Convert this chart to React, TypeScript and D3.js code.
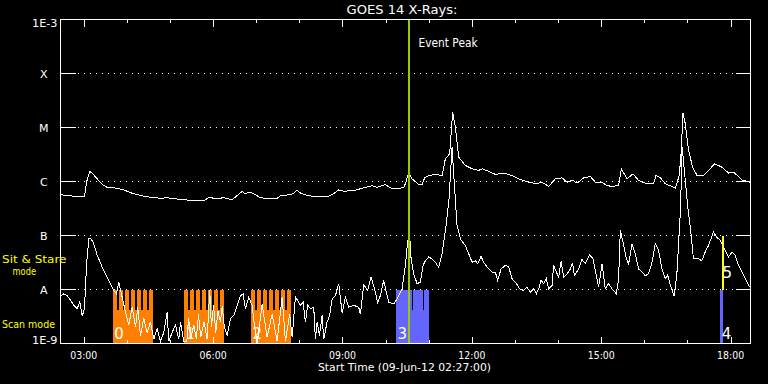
import React from 'react';
import * as d3 from 'd3';

// ---------- data (time in UT hours on 09-Jun-2012, flux in W/m^2) ----------
const startHour = 2.45; // 02:27 UT
const endHour = 18.45;
const eventPeakHour = 10.533;

const goesLetters = ['A', 'B', 'C', 'M', 'X'];
const goesFlux = [1e-8, 1e-7, 1e-6, 1e-5, 1e-4];
const decadeFlux = [1e-9, 1e-8, 1e-7, 1e-6, 1e-5, 1e-4, 1e-3];
const hourTicks = [3, 4, 5, 6, 7, 8, 9, 10, 11, 12, 13, 14, 15, 16, 17, 18];
const labelHours = [3, 6, 9, 12, 15, 18];

// 1-8 Angstrom channel
const longTime = [
  2.450, 2.605, 2.798, 3.006, 3.053, 3.129, 3.185, 3.301, 3.417, 3.533, 3.764, 3.917, 4.073, 4.304,
  4.536, 4.768, 4.923, 5.077, 5.308, 5.540, 5.772, 5.904, 6.043, 6.236, 6.430, 6.546, 6.662, 6.738,
  6.838, 6.970, 7.086, 7.278, 7.473, 7.550, 7.782, 7.858, 7.937, 8.013, 8.169, 8.400, 8.632, 8.748,
  8.901, 9.017, 9.249, 9.481, 9.675, 9.791, 9.984, 10.100, 10.255, 10.408, 10.448, 10.526, 10.603,
  10.757, 10.833, 10.894, 10.986, 11.141, 11.298, 11.374, 11.474, 11.543, 11.606, 11.683, 11.838,
  11.994, 12.147, 12.226, 12.379, 12.534, 12.726, 12.921, 13.113, 13.306, 13.500, 13.616, 13.769,
  13.925, 14.080, 14.196, 14.312, 14.427, 14.580, 14.736, 14.852, 15.007, 15.123, 15.239, 15.392,
  15.455, 15.586, 15.726, 15.855, 16.011, 16.203, 16.259, 16.358, 16.474, 16.706, 16.799, 16.845,
  16.884, 16.938, 17.015, 17.108, 17.210, 17.363, 17.479, 17.618, 17.790, 17.943, 18.059, 18.253, 18.445,
];
const longFlux = [
  5.7e-7, 5.5e-7, 5.3e-7, 5.3e-7, 9.7e-7, 1.53e-6, 1.43e-6, 1.12e-6, 8.8e-7, 7.8e-7, 7.5e-7, 7.0e-7, 6.2e-7, 5.5e-7,
  5.1e-7, 4.9e-7, 5.0e-7, 4.8e-7, 4.6e-7, 4.4e-7, 4.4e-7, 5.1e-7, 4.8e-7, 5.0e-7, 4.6e-7, 5.5e-7, 6.5e-7, 5.9e-7,
  6.4e-7, 5.7e-7, 5.0e-7, 4.8e-7, 4.85e-7, 5.5e-7, 5.7e-7, 6.1e-7, 7.0e-7, 6.1e-7, 5.5e-7, 5.2e-7, 5.2e-7, 5.7e-7,
  7.0e-7, 6.6e-7, 6.8e-7, 7.6e-7, 8.4e-7, 7.8e-7, 8.8e-7, 7.6e-7, 7.3e-7, 7.8e-7, 9.1e-7, 1.49e-6, 1.12e-6,
  8.8e-7, 8.7e-7, 1.17e-6, 1.28e-6, 1.35e-6, 1.29e-6, 2.63e-6, 3.26e-6, 1.92e-5, 1.01e-5, 2.82e-6, 1.98e-6,
  1.72e-6, 1.60e-6, 1.72e-6, 1.55e-6, 1.35e-6, 1.43e-6, 1.29e-6, 1.09e-6, 9.7e-7, 9.1e-7, 9.7e-7, 8.1e-7,
  1.12e-6, 1.17e-6, 9.7e-7, 1.07e-6, 9.3e-7, 1.17e-6, 1.24e-6, 9.7e-7, 9.7e-7, 8.4e-7, 8.1e-7, 8.4e-7,
  1.72e-6, 1.12e-6, 1.39e-6, 1.04e-6, 9.3e-7, 9.1e-7, 1.29e-6, 1.17e-6, 9.1e-7, 7.6e-7, 1.29e-6, 3.75e-6,
  1.84e-5, 1.17e-5, 3.75e-6, 1.84e-6, 1.29e-6, 1.29e-6, 1.60e-6, 2.13e-6, 1.84e-6, 1.43e-6, 1.49e-6, 1.07e-6, 9.7e-7,
];

// 0.5-4 Angstrom channel
const shortTime = [
  2.450, 2.527, 2.605, 2.682, 2.758, 2.837, 2.897, 2.953, 3.006, 3.053, 3.106, 3.145, 3.208, 3.301,
  3.417, 3.533, 3.686, 3.748, 3.801, 3.880, 3.957, 4.033, 4.112, 4.189, 4.242, 4.304, 4.381, 4.460,
  4.536, 4.613, 4.692, 4.768, 4.845, 4.923, 4.960, 5.039, 5.116, 5.192, 5.232, 5.308, 5.380, 5.420,
  5.470, 5.540, 5.600, 5.650, 5.700, 5.780, 5.850, 5.911, 5.950, 6.000, 6.050, 6.100, 6.160, 6.200,
  6.250, 6.314, 6.391, 6.467, 6.546, 6.622, 6.685, 6.738, 6.815, 6.894, 6.931, 7.010, 7.125, 7.241,
  7.357, 7.473, 7.589, 7.666, 7.765, 7.821, 7.898, 7.951, 8.013, 8.076, 8.129, 8.183, 8.246, 8.322,
  8.361, 8.400, 8.454, 8.516, 8.554, 8.632, 8.692, 8.748, 8.825, 8.901, 8.980, 9.057, 9.133, 9.249,
  9.365, 9.404, 9.481, 9.574, 9.652, 9.729, 9.805, 9.868, 9.944, 10.060, 10.176, 10.255, 10.371,
  10.448, 10.501, 10.547, 10.580, 10.640, 10.719, 10.795, 10.857, 10.911, 10.987, 11.066, 11.142,
  11.219, 11.298, 11.358, 11.391, 11.456, 11.529, 11.622, 11.645, 11.722, 11.838, 11.915, 11.994,
  12.070, 12.124, 12.202, 12.263, 12.341, 12.457, 12.534, 12.587, 12.666, 12.766, 12.844, 12.922,
  12.998, 13.098, 13.190, 13.269, 13.345, 13.422, 13.484, 13.538, 13.593, 13.654, 13.716, 13.769,
  13.848, 13.885, 13.948, 14.001, 14.057, 14.117, 14.196, 14.272, 14.325, 14.365, 14.465, 14.543,
  14.620, 14.720, 14.798, 14.875, 14.928, 15.007, 15.083, 15.160, 15.239, 15.339, 15.392, 15.431,
  15.494, 15.570, 15.624, 15.703, 15.779, 15.856, 15.934, 16.011, 16.087, 16.166, 16.242, 16.319,
  16.398, 16.474, 16.527, 16.606, 16.682, 16.745, 16.806, 16.826, 16.865, 17.004, 17.050, 17.089,
  17.127, 17.243, 17.321, 17.397, 17.474, 17.590, 17.669, 17.748, 17.840, 17.940, 18.019, 18.096,
  18.173, 18.253, 18.329, 18.428,
];
const shortFlux = [
  7.7e-9, 8.3e-9, 7.7e-9, 6.3e-9, 5.1e-9, 4.4e-9, 6.0e-9, 3.2e-9, 4.4e-9, 2.8e-8, 8.7e-8, 8.9e-8, 7.5e-8, 4.3e-8,
  2.6e-8, 1.7e-8, 9.6e-9, 8.3e-9, 1.37e-8, 7.2e-9, 3.8e-9, 2.2e-9, 4.7e-9, 2.0e-9, 4.7e-9, 1.4e-9, 2.9e-9, 1.6e-9,
  2.5e-9, 1.2e-9, 1.9e-9, 1.1e-9, 1.6e-9, 3.8e-9, 1.1e-9, 1.6e-9, 2.2e-9, 1.2e-9, 2.5e-9, 1.1e-9, 1.1e-9, 3.0e-9,
  1.2e-9, 2.2e-9, 1.2e-9, 3.5e-9, 1.3e-9, 2.5e-9, 1.2e-9, 9.6e-9, 2.0e-9, 5.1e-9, 1.6e-9, 4.0e-9, 2.5e-9, 5.0e-9,
  2.0e-9, 1.4e-9, 2.9e-9, 3.3e-9, 5.1e-9, 7.7e-9, 8.3e-9, 4.4e-9, 7.2e-9, 5.1e-9, 2.7e-9, 1.0e-9, 5.4e-9, 1.3e-9,
  3.5e-9, 1.1e-9, 7.2e-9, 1.1e-9, 3.5e-9, 1.3e-9, 7.2e-9, 6.3e-9, 5.1e-9, 5.8e-9, 2.5e-9, 5.1e-9, 4.4e-9, 4.7e-9,
  1.2e-9, 2.5e-9, 1.4e-9, 3.3e-9, 1.2e-9, 2.5e-9, 3.3e-9, 6.7e-9, 7.7e-9, 1.28e-8, 3.7e-9, 7.2e-9, 4.7e-9, 5.1e-9,
  4.7e-9, 3.5e-9, 1.22e-8, 9.6e-9, 1.7e-8, 1.03e-8, 5.8e-9, 7.7e-9, 1.47e-8, 5.8e-9, 5.4e-9, 6.7e-9, 1.03e-8,
  2.8e-8, 8.1e-8, 1.0e-7, 3.7e-8, 1.95e-8, 1.28e-8, 1.37e-8, 2.8e-8, 3.4e-8, 4.0e-8, 3.7e-8, 3.2e-8,
  2.6e-8, 4.6e-8, 1.0e-7, 1.53e-7, 4.4e-7, 4.3e-6, 2.9e-7, 1.53e-7, 8.7e-8, 6.5e-8, 4.6e-8, 3.2e-8,
  3.4e-8, 3.0e-8, 4.1e-8, 3.2e-8, 2.6e-8, 2.1e-8, 2.1e-8, 1.47e-8, 2.4e-8, 2.8e-8, 2.6e-8, 1.58e-8,
  1.37e-8, 1.03e-8, 9.6e-9, 1.1e-8, 8.9e-9, 1.03e-8, 8.3e-9, 1.03e-8, 1.47e-8, 1.28e-8, 1.58e-8, 1.03e-8,
  1.19e-8, 2.8e-8, 2.1e-8, 1.7e-8, 3.3e-8, 1.7e-8, 1.95e-8, 2.4e-8, 3.1e-8, 1.8e-8, 2.4e-8, 3.6e-8,
  3.0e-8, 4.4e-8, 3.7e-8, 1.8e-8, 1.1e-8, 3.0e-8, 1.03e-8, 1.28e-8, 1.03e-8, 8.3e-9, 1.58e-8, 1.24e-7,
  7.5e-8, 3.7e-8, 3.0e-8, 7.0e-8, 4.6e-8, 2.4e-8, 2.1e-8, 1.8e-8, 1.95e-8, 3.2e-8, 7.0e-8, 5.3e-8,
  2.4e-8, 1.58e-8, 1.87e-8, 1.1e-8, 7.5e-9, 2.1e-8, 1.53e-7, 2.9e-7, 4.3e-6, 2.9e-7, 1.53e-7, 7.5e-8,
  3.7e-8, 3.7e-8, 3.4e-8, 4.9e-8, 6.5e-8, 1.15e-7, 9.3e-8, 8.1e-8, 5.7e-8, 4.0e-8, 4.9e-8, 4.3e-8,
  2.8e-8, 2.1e-8, 1.58e-8, 1.1e-8,
];

// observing-mode blocks
const scanStart = [3.672, 5.324, 6.877, 10.239, 17.749];
const scanEnd = [4.599, 6.252, 7.805, 11.004, 17.819];
const scanLabel = ['0', '1', '2', '3', '4'];
const scanGroup = [0, 0, 0, 1, 1];
const sitStart = [17.788];
const sitEnd = [17.842];
const sitLabel = ['5'];
const rasterStepHours = 0.139; // repeat of the tall frames inside a scan block
const rasterGapHours = 0.046;
const blueGapHours = [10.616, 10.864];
const scanTopFlux = 1e-8;
const scanMidFlux = 4.1e-9;
const sitTopFlux = 1e-7;

// ---------- layout ----------
const W = 768;
const H = 384;
const L = 60, R = 750, T = 19, B = 343;
const FONT = 'DejaVu Sans, sans-serif';
const groupColor = ['#ff8000', '#6464ff'];

export default function App() {
  const x = d3.scaleLinear().domain([startHour, endHour]).range([L, R]);
  const y = d3.scaleLog().domain([1e-9, 1e-3]).range([B, T]).clamp(true);

  const longLine = d3.line<number>().x((_, i) => x(longTime[i])).y((d) => y(d))(longFlux) || '';
  const shortLine = d3.line<number>().x((_, i) => x(shortTime[i])).y((d) => y(d))(shortFlux) || '';

  const fmt = (h: number) => (h < 10 ? '0' : '') + h + ':00';

  const gaps: { a: number; b: number }[] = [];
  scanStart.forEach((s, i) => {
    if (scanGroup[i] !== 0) return;
    for (let g = s + rasterStepHours - rasterGapHours; g + rasterGapHours < scanEnd[i]; g += rasterStepHours) {
      gaps.push({ a: g, b: g + rasterGapHours });
    }
  });

  const yTop = y(scanTopFlux);
  const yMid = y(scanMidFlux);

  return (
    <svg
      width={W}
      height={H}
      style={{ position: 'absolute', left: 0, top: 0, display: 'block', background: '#000' }}
      fontFamily={FONT}
    >
      <rect x={0} y={0} width={W} height={H} fill="#000" />
      <g transform="translate(0.5,0.5)" shapeRendering="crispEdges">
        {/* dotted GOES class lines */}
        {goesFlux.map((f) => (
          <line key={f} x1={L} x2={R} y1={y(f)} y2={y(f)} stroke="#fff" strokeDasharray="1 5" strokeDashoffset={1} />
        ))}

        {/* mode blocks */}
        {scanStart.map((s, i) => (
          <rect key={'s' + i} x={x(s)} y={yTop} width={x(scanEnd[i]) - x(s)} height={B - yTop} fill={groupColor[scanGroup[i]]} />
        ))}
        {gaps.map((g, i) => (
          <rect key={'g' + i} x={x(g.a)} y={yTop} width={x(g.b) - x(g.a)} height={yMid - yTop} fill="#000" />
        ))}
        {blueGapHours.map((h, i) => (
          <line key={'bg' + i} x1={x(h)} x2={x(h)} y1={yTop} y2={yMid} stroke="#000" />
        ))}
        {sitStart.map((s, i) => (
          <rect key={'ss' + i} x={x(s)} y={y(sitTopFlux)} width={x(sitEnd[i]) - x(s)} height={yTop - y(sitTopFlux)} fill="#ffff00" />
        ))}

        {/* light curves */}
        <path d={longLine} fill="none" stroke="#fff" strokeWidth={1} />
        <path d={shortLine} fill="none" stroke="#fff" strokeWidth={1} />

        {/* event peak */}
        <line x1={x(eventPeakHour)} x2={x(eventPeakHour)} y1={T} y2={B} stroke="#99cc00" strokeWidth={2} />

        {/* axes box */}
        <rect x={L} y={T} width={R - L} height={B - T} fill="none" stroke="#fff" />
        {decadeFlux.map((f) => (
          <g key={'yt' + f}>
            <line x1={L} x2={L + 15} y1={y(f)} y2={y(f)} stroke="#fff" />
            <line x1={R - 15} x2={R} y1={y(f)} y2={y(f)} stroke="#fff" />
          </g>
        ))}
        {hourTicks.map((h) => {
          const len = h % 3 === 0 ? 7 : 3.5;
          return (
            <g key={'xt' + h}>
              <line x1={x(h)} x2={x(h)} y1={T} y2={T + len} stroke="#fff" />
              <line x1={x(h)} x2={x(h)} y1={B} y2={B - len} stroke="#fff" />
            </g>
          );
        })}
      </g>

      {/* block labels */}
      {scanStart.map((s, i) => (
        <text key={'sl' + i} x={x(s) + (scanGroup[i] === 1 && i === 4 ? 2 : 1.5)} y={339} fontSize={15} fill="#fff">
          {scanLabel[i]}
        </text>
      ))}
      {sitStart.map((s, i) => (
        <text key={'sil' + i} x={x(s) + 1} y={278} fontSize={15} fill="#fff">
          {sitLabel[i]}
        </text>
      ))}

      {/* texts */}
      <text x={402} y={14} fontSize={12.5} fill="#fff" textAnchor="middle" textLength={111} lengthAdjust="spacingAndGlyphs">
        GOES 14 X-Rays:
      </text>
      <text x={x(eventPeakHour) + 10} y={46.5} fontSize={11.5} fill="#fff" textLength={59} lengthAdjust="spacingAndGlyphs">
        Event Peak
      </text>
      <text x={57.5} y={27} fontSize={11} fill="#fff" textAnchor="end" textLength={25.5} lengthAdjust="spacingAndGlyphs">1E-3</text>
      <text x={57.5} y={343.5} fontSize={11} fill="#fff" textAnchor="end" textLength={25.5} lengthAdjust="spacingAndGlyphs">1E-9</text>
      {goesLetters.map((c, i) => (
        <text key={c} x={43.8} y={y(goesFlux[i]) + 4.5} fontSize={11} fill="#fff" textAnchor="middle">
          {c}
        </text>
      ))}
      <text x={2} y={263} fontSize={11} fill="#ffff00" textLength={64.5} lengthAdjust="spacingAndGlyphs">Sit &amp; Stare</text>
      <text x={12.5} y={275} fontSize={11} fill="#ffff00" textLength={23.5} lengthAdjust="spacingAndGlyphs">mode</text>
      <text x={2} y={328} fontSize={11} fill="#ffff00" textLength={53} lengthAdjust="spacingAndGlyphs">Scan mode</text>
      {labelHours.map((h) => (
        <text key={'xl' + h} x={x(h)} y={358.5} fontSize={10} fill="#fff" textAnchor="middle" textLength={27} lengthAdjust="spacingAndGlyphs">
          {fmt(h)}
        </text>
      ))}
      <text x={404.5} y={370.5} fontSize={11} fill="#fff" textAnchor="middle" textLength={173} lengthAdjust="spacingAndGlyphs">
        Start Time (09-Jun-12 02:27:00)
      </text>
    </svg>
  );
}
